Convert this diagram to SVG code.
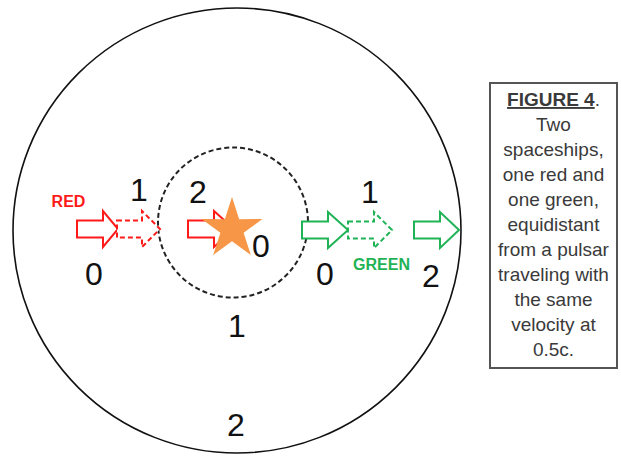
<svg xmlns="http://www.w3.org/2000/svg" width="621" height="457" viewBox="0 0 621 457">
<style>
.big{font-family:"Liberation Sans",Arial,sans-serif;font-size:32px;fill:#111;text-anchor:middle}
.lbl{font-family:"Liberation Sans",Arial,sans-serif;font-size:16px;font-weight:bold;text-anchor:middle}
.cap{font-family:"Liberation Sans",Arial,sans-serif;font-size:19px;fill:#3a3a3a;text-anchor:middle}
.ar{fill:#fff;stroke-width:2;stroke-linejoin:miter}
.red{stroke:#ff1a1a}
.grn{stroke:#1fb356}
.dash{stroke-dasharray:5 3}
</style>
<rect width="621" height="457" fill="#fff"/>
<g id="outer-circle"><ellipse cx="237" cy="230.5" rx="224" ry="222.5" fill="none" stroke="#111" stroke-width="1.6"/></g>
<g id="inner-circle"><circle cx="233" cy="222.5" r="75" fill="none" stroke="#222" stroke-width="2" stroke-dasharray="5 3"/></g>
<g id="red-ship-0"><path class="ar red" d="M77,220.5 H103 V211 L118,229 L103,247 V237.5 H77 Z"/></g>
<g id="red-ship-1"><path class="ar red dash" d="M117,220.5 H142 V211 L160,229 L142,247 V237.5 H117 Z"/></g>
<g id="red-ship-2"><path class="ar red" d="M188,220.5 H214 V211 L234,229 L214,247 V237.5 H188 Z"/></g>
<g id="pulsar"><polygon fill="#f79646" points="232,197 239.17,219.13 262.43,219.11 243.6,232.77 250.81,254.89 232,241.2 213.19,254.89 220.4,232.77 201.57,219.11 224.83,219.13"/></g>
<g id="green-ship-0"><path class="ar grn" d="M302,221.5 H328 V212 L348,230 L328,248 V238.5 H302 Z"/></g>
<g id="green-ship-1"><path class="ar grn dash" d="M348,221.5 H374 V212 L392,230 L374,248 V238.5 H348 Z"/></g>
<g id="green-ship-2"><path class="ar grn" d="M414,221.5 H440 V212 L459,230 L440,248 V238.5 H414 Z"/></g>
<g id="labels">
<text class="lbl" x="68.5" y="207" fill="#ff1a1a">RED</text>
<text class="lbl" x="381.5" y="270" fill="#1fb356">GREEN</text>
<text class="big" x="139" y="201">1</text>
<text class="big" x="94" y="285">0</text>
<text class="big" x="198" y="203">2</text>
<text class="big" x="261" y="257">0</text>
<text class="big" x="370" y="203">1</text>
<text class="big" x="325" y="285">0</text>
<text class="big" x="431" y="287">2</text>
<text class="big" x="237" y="337">1</text>
<text class="big" x="236" y="436">2</text>
</g>
<g id="caption">
<rect x="490" y="83" width="127" height="285" fill="#fff" stroke="#555" stroke-width="2"/>
<text class="cap" x="553.5" y="106"><tspan font-weight="bold" text-decoration="underline">FIGURE 4</tspan>.</text>
<text class="cap" x="553.5" y="131">Two</text>
<text class="cap" x="553.5" y="156">spaceships,</text>
<text class="cap" x="553.5" y="181">one red and</text>
<text class="cap" x="553.5" y="206">one green,</text>
<text class="cap" x="553.5" y="231">equidistant</text>
<text class="cap" x="553.5" y="256">from a pulsar</text>
<text class="cap" x="553.5" y="281">traveling with</text>
<text class="cap" x="553.5" y="306">the same</text>
<text class="cap" x="553.5" y="331">velocity at</text>
<text class="cap" x="553.5" y="356">0.5c.</text>
</g>
</svg>
